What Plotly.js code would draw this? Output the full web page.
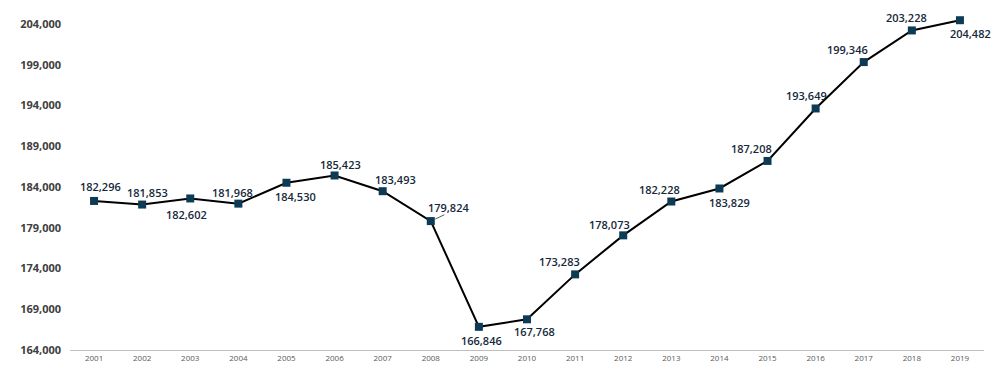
<!DOCTYPE html>
<html>
<head>
<meta charset="utf-8">
<script src="https://cdn.plot.ly/plotly-3.0.1.min.js"></script>
<style>html,body{margin:0;padding:0;background:#fff}#chart{width:1006px;height:375px}</style>
</head>
<body>
<div id="chart"></div>
<script>
var years = ['2001','2002','2003','2004','2005','2006','2007','2008','2009','2010','2011','2012','2013','2014','2015','2016','2017','2018','2019'];
var values = [182296,181853,182602,181968,184530,185423,183493,179824,166846,167768,173283,178073,182228,183829,187208,193649,199346,203228,204482];
var yTicks = [164000,169000,174000,179000,184000,189000,194000,199000,204000];

// label offsets in pixels (dx right, dy down) relative to each point
var labelDx = [6,5,-4,-6,9,6,13,18,3,7,-16,-14,-12,10,-16,-9,-16,-5,11];
var labelDy = [-14,-12,16,-11,14,-11,-12,-14,14,12,-13,-11,-12,14,-12,-13,-13,-13,13];

function fmt(v){ return String(v).replace(/\B(?=(\d{3})+(?!\d))/g, ','); }

var annotations = [];
for (var i = 0; i < years.length; i++) {
  annotations.push({
    x: i, y: values[i], xref: 'x', yref: 'y',
    text: fmt(values[i]),
    font: {family: 'Open Sans, sans-serif', size: 11, color: '#15283a', weight: 600},
    xanchor: 'center', yanchor: 'middle',
    showarrow: false, xshift: labelDx[i], yshift: -labelDy[i]
  });
}
// leader line for the 2008 label
annotations.push({
  x: 7, y: values[7], xref: 'x', yref: 'y', text: ' ', font: {size: 1},
  showarrow: true, arrowhead: 0, arrowwidth: 0.8, arrowcolor: '#333333',
  ax: 15, ay: -7, standoff: 5
});

var trace = {
  x: years, y: values, type: 'scatter', mode: 'lines+markers',
  line: {color: '#000000', width: 2},
  marker: {symbol: 'square', size: 8, color: '#0d3b55'},
  hoverinfo: 'x+y'
};

var layout = {
  width: 1006, height: 375,
  margin: {l: 70, r: 22, t: 16, b: 25},
  paper_bgcolor: '#ffffff', plot_bgcolor: '#ffffff',
  showlegend: false,
  xaxis: {
    type: 'category', range: [-0.5, 18.5],
    showgrid: false, zeroline: false,
    showline: true, linecolor: '#bfbfbf', linewidth: 1,
    ticks: '', tickfont: {family: 'Open Sans, sans-serif', size: 8, color: '#595959'}
  },
  yaxis: {
    range: [164000, 205000], tickvals: yTicks, tickformat: ',',
    showgrid: false, zeroline: false, showline: false, ticks: '',
    ticklabelstandoff: 8,
    tickfont: {family: 'Open Sans, sans-serif', size: 11, color: '#404040', weight: 'bold'}
  },
  annotations: annotations
};

Plotly.newPlot('chart', [trace], layout, {displayModeBar: false, staticPlot: true});
</script>
</body>
</html>
